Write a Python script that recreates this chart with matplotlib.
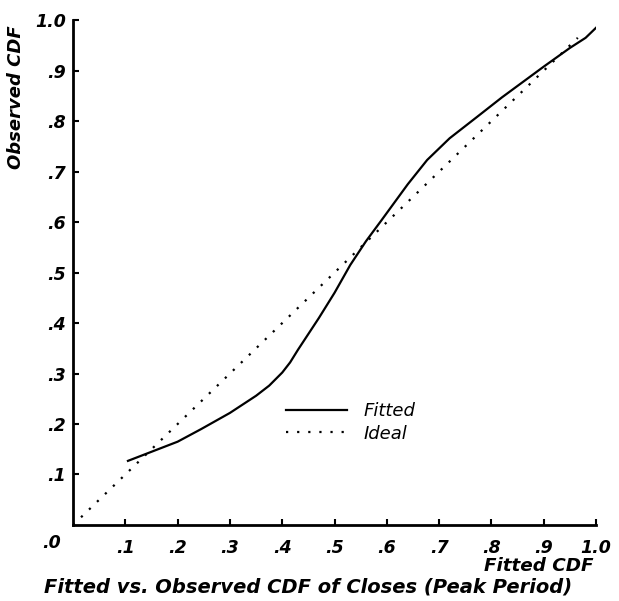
import matplotlib
matplotlib.use("Agg")
import matplotlib.pyplot as plt

# === Data ===
fitted_x = [0.105, 0.15, 0.2, 0.245, 0.3, 0.35, 0.375, 0.4, 0.415, 0.43, 0.47,
            0.5, 0.53, 0.56, 0.59, 0.64, 0.677, 0.72, 0.772, 0.82, 0.9, 0.95,
            0.98, 1.0]
fitted_y = [0.127, 0.145, 0.165, 0.19, 0.222, 0.256, 0.276, 0.302, 0.322, 0.347,
            0.41, 0.46, 0.515, 0.562, 0.604, 0.675, 0.723, 0.766, 0.808, 0.847,
            0.908, 0.945, 0.965, 0.985]
ideal_x = [0.0, 0.965]
ideal_y = [0.0, 0.965]
ticks = [0.1, 0.2, 0.3, 0.4, 0.5, 0.6, 0.7, 0.8, 0.9, 1.0]
tick_labels = [".1", ".2", ".3", ".4", ".5", ".6", ".7", ".8", ".9", "1.0"]

plt.rcParams['font.family'] = ['DejaVu Sans']
bi = dict(fontweight='bold', fontstyle='italic')

fig = plt.figure(figsize=(6.19, 6.01), dpi=100)
ax = fig.add_axes([0.118, 0.1265, 0.845, 0.840])

ax.plot(fitted_x, fitted_y, color='black', lw=1.6, label='Fitted')
ax.plot(ideal_x, ideal_y, color='black', lw=1.6, linestyle=(0, (1, 4)), label='Ideal')

ax.set_xlim(0, 1)
ax.set_ylim(0, 1)
for s in ['top', 'right']:
    ax.spines[s].set_visible(False)
for s in ['left', 'bottom']:
    ax.spines[s].set_linewidth(2)

ax.set_xticks(ticks)
ax.set_xticklabels(tick_labels, fontsize=12.5, **bi)
ax.set_yticks(ticks)
ax.set_yticklabels(tick_labels, fontsize=12.5, **bi)
ax.tick_params(axis='x', direction='in', length=4, width=1.5, pad=10)
ax.tick_params(axis='y', direction='in', length=4, width=1.5, pad=5)

fig.text(0.084, 0.0965, ".0", fontsize=12.5, ha='center', va='center', **bi)

leg = ax.legend(loc='upper left', bbox_to_anchor=(0.462, 0.331),
                bbox_transform=fig.transFigure, frameon=False,
                prop={'family': 'DejaVu Sans', 'style': 'italic', 'size': 13},
                handlelength=3.4, handletextpad=0.9, labelspacing=0.25,
                borderpad=0, borderaxespad=0)

fig.text(0.958, 0.058, "Fitted CDF", fontsize=13.2, ha='right', va='center', **bi)
fig.text(0.498, 0.023, "Fitted vs. Observed CDF of Closes (Peak Period)",
         fontsize=14, ha='center', va='center', **bi)
fig.text(0.026, 0.839, "Observed CDF", fontsize=13, rotation=90,
         ha='center', va='center', **bi)

fig.savefig("out.png", dpi=100)
